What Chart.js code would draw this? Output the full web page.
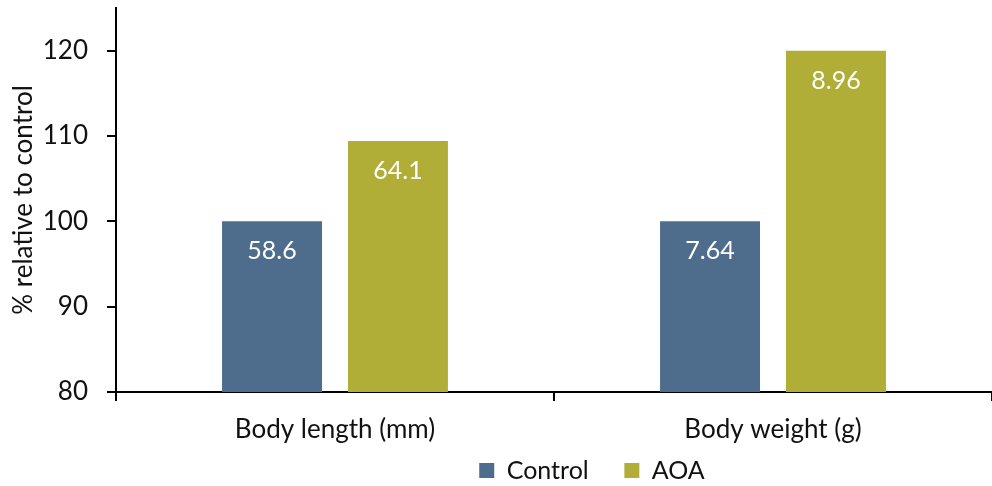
<!DOCTYPE html>
<html>
<head>
<meta charset="utf-8">
<script src="https://cdn.jsdelivr.net/npm/chart.js@4/dist/chart.umd.min.js"></script>
<style>
  html, body { margin: 0; padding: 0; background: #fff; }
  #wrap { width: 992px; height: 486px; }
</style>
</head>
<body>
<div id="wrap"><canvas id="grafico" width="992" height="486"></canvas></div>
<script>
// dados do gráfico
var categorias = ['Body length (mm)', 'Body weight (g)'];
var controle = [100, 100];
var aoa = [109.4, 120];
var rotulosControle = ['58.6', '7.64'];
var rotulosAoa = ['64.1', '8.96'];
var fonte = 'Lato, "Open Sans", sans-serif';

// escreve os valores dentro das barras
var rotulosPlugin = {
  id: 'rotulos',
  afterDatasetsDraw: function(chart){
    var ctx = chart.ctx;
    var listas = [rotulosControle, rotulosAoa];
    ctx.save();
    ctx.fillStyle = '#ffffff';
    ctx.font = '25px ' + fonte;
    ctx.textAlign = 'center';
    ctx.textBaseline = 'middle';
    chart.data.datasets.forEach(function(ds, i){
      chart.getDatasetMeta(i).data.forEach(function(bar, j){
        ctx.fillText(listas[i][j], bar.x, bar.y + 30);
      });
    });
    ctx.restore();
  }
};

// desloca a legenda para a direita como no original
var legendaPlugin = {
  id: 'legendaDesloc',
  afterLayout: function(chart){
    if (chart.legend) {
      chart.legend.left += 94;
      chart.legend.right += 94;
    }
  }
};

new Chart(document.getElementById('grafico'), {
  type: 'bar',
  data: {
    labels: categorias,
    datasets: [
      { label: 'Control', data: controle, backgroundColor: '#4E6D8D' },
      { label: 'AOA', data: aoa, backgroundColor: '#B0AE36' }
    ]
  },
  options: {
    responsive: false,
    animation: false,
    devicePixelRatio: 1,
    categoryPercentage: 0.575,
    barPercentage: 0.794,
    layout: { padding: { top: 8, right: 0, left: 4, bottom: -7 } },
    plugins: {
      legend: {
        position: 'bottom',
        labels: {
          boxWidth: 15, boxHeight: 15, padding: 10,
          color: '#111', font: { family: fonte, size: 25 },
          generateLabels: function(chart){
            var itens = Chart.defaults.plugins.legend.labels.generateLabels(chart);
            itens.forEach(function(it, i){
              if (i < itens.length - 1) it.text = it.text + '    ';
            });
            return itens;
          }
        }
      },
      tooltip: { enabled: false }
    },
    scales: {
      x: {
        afterFit: function(scale){ scale.height = 56; },
        grid: { drawOnChartArea: false, tickLength: 9, color: '#000', lineWidth: 2, offset: true },
        border: { color: '#000', width: 2 },
        ticks: { color: '#111', padding: 13, font: { family: fonte, size: 26 } }
      },
      y: {
        min: 80, max: 125,
        afterBuildTicks: function(axis){
          axis.ticks = axis.ticks.filter(function(t){ return t.value <= 120; });
        },
        afterFit: function(scale){
          scale.width = 112;
          scale.paddingTop = 0;
        },
        grid: { drawOnChartArea: false, tickLength: 9, color: '#000', lineWidth: 2 },
        border: { color: '#000', width: 2 },
        ticks: { stepSize: 10, color: '#111', padding: 19, font: { family: fonte, size: 26 } },
        title: {
          display: true, text: '% relative to control', color: '#111',
          padding: { bottom: 8 }, font: { family: fonte, size: 26 }
        }
      }
    }
  },
  plugins: [rotulosPlugin, legendaPlugin]
});
</script>
</body>
</html>
